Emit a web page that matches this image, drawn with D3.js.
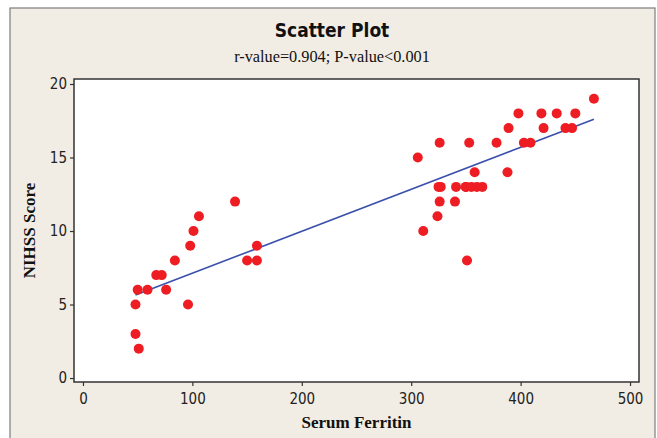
<!DOCTYPE html>
<head>
  <meta charset="utf-8">
  <script src="https://d3js.org/d3.v7.min.js"></script>
  <style>
    body { margin:0; background:#fff; }
    .tick text { font-family: "DejaVu Sans Condensed", "DejaVu Sans", sans-serif; font-size:15px; fill:#222; }
    .tick line { stroke:#333; stroke-width:1.2; }
  </style>
</head>
<body>
  <svg width="657" height="438"></svg>
  <script>
    // serum ferritin vs NIHSS score
    var ferritin = [48, 48, 51, 50, 59, 67, 72, 76, 84, 96, 98, 101, 106, 139, 150, 159, 159,
                    306, 311, 324, 325, 327, 326, 326, 340, 341, 350, 351, 350, 353, 355, 358, 360, 365,
                    378, 388, 389, 398, 403, 409, 419, 421, 433, 441, 447, 450, 467];
    var nihss    = [5, 3, 2, 6, 6, 7, 7, 6, 8, 5, 9, 10, 11, 12, 8, 8, 9,
                    15, 10, 11, 13, 13, 12, 16, 12, 13, 13, 8, 13, 16, 13, 14, 13, 13,
                    16, 14, 17, 18, 16, 16, 18, 17, 18, 17, 17, 18, 19];
    // fitted line ends
    var fitX = [48, 467];
    var fitY = [5.65, 17.6];
    var xTicks = [0, 100, 200, 300, 400, 500];
    var yTicks = [0, 5, 10, 15, 20];

    var svg = d3.select("svg");

    // outer frame
    svg.append("rect").attr("x", 10).attr("y", 8).attr("width", 645).attr("height", 440)
      .attr("fill", "#f2ede4").attr("stroke", "#7d7d7d").attr("stroke-width", 1.2);

    var pLeft = 74, pRight = 639, pTop = 79, pBottom = 382;

    var x = d3.scaleLinear().domain([-8.2, 508.2]).range([pLeft, pRight]);
    var y = d3.scaleLinear().domain([-0.27, 20.34]).range([pBottom, pTop]);

    svg.append("rect").attr("x", pLeft).attr("y", pTop)
      .attr("width", pRight - pLeft).attr("height", pBottom - pTop)
      .attr("fill", "#fff").attr("stroke", "#333").attr("stroke-width", 1.5);

    var gx = svg.append("g").attr("transform", "translate(0," + pBottom + ")")
      .call(d3.axisBottom(x).tickValues(xTicks).tickSize(4).tickPadding(7));
    gx.select(".domain").remove();

    var gy = svg.append("g").attr("transform", "translate(" + pLeft + ",0)")
      .call(d3.axisLeft(y).tickValues(yTicks).tickSize(4).tickPadding(3));
    gy.select(".domain").remove();

    var line = d3.line()
      .x(function(d) { return x(d[0]); })
      .y(function(d) { return y(d[1]); });

    svg.append("path")
      .attr("d", line(d3.zip(fitX, fitY)))
      .attr("fill", "none").attr("stroke", "#3a50aa").attr("stroke-width", 1.6);

    svg.append("g").selectAll("circle")
      .data(d3.zip(ferritin, nihss))
      .enter().append("circle")
      .attr("cx", function(d) { return x(d[0]); })
      .attr("cy", function(d) { return y(d[1]); })
      .attr("r", 5)
      .attr("fill", "#ee1d23");

    // titles
    svg.append("text").attr("x", 332).attr("y", 37).attr("text-anchor", "middle")
      .style("font-family", "'DejaVu Sans Condensed', 'DejaVu Sans', sans-serif")
      .style("font-weight", "bold").style("font-size", "19px").attr("fill", "#111")
      .text("Scatter Plot");

    svg.append("text").attr("x", 332).attr("y", 62).attr("text-anchor", "middle")
      .style("font-family", "'Liberation Serif', serif")
      .style("font-size", "16.3px").attr("fill", "#111")
      .text("r-value=0.904; P-value<0.001");

    svg.append("text").attr("x", (pLeft + pRight) / 2).attr("y", 428).attr("text-anchor", "middle")
      .style("font-family", "'Liberation Serif', serif")
      .style("font-weight", "bold").style("font-size", "17px").attr("fill", "#111")
      .text("Serum Ferritin");

    svg.append("text")
      .attr("transform", "translate(35," + (pTop + pBottom) / 2 + ") rotate(-90)")
      .attr("text-anchor", "middle")
      .style("font-family", "'Liberation Serif', serif")
      .style("font-weight", "bold").style("font-size", "17px").attr("fill", "#111")
      .text("NIHSS Score");
  </script>
</body>
